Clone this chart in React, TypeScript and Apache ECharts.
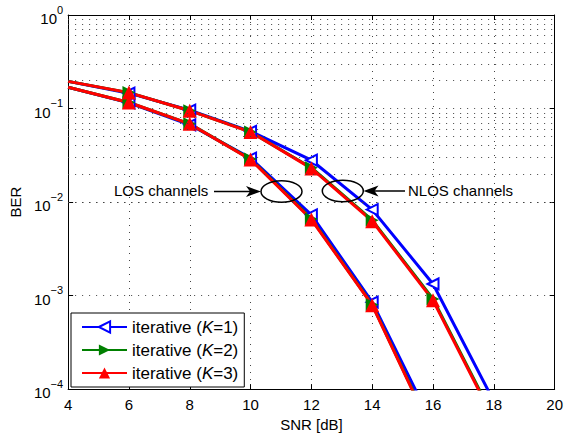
import React, { useEffect, useRef } from 'react';
import * as echarts from 'echarts';

const snr = [4, 6, 8, 10, 12, 14, 16, 18];

// LOS channels
const losK1 = [0.169, 0.115, 0.067, 0.0295, 0.0073, 0.00085, 0.000041];
const losK2 = [0.169, 0.116, 0.0686, 0.0288, 0.0066, 0.0008, 0.000034];
const losK3 = [0.169, 0.116, 0.0686, 0.0285, 0.0065, 0.00079, 0.000033];

// NLOS channels
const nlosK1 = [0.195, 0.146, 0.096, 0.057, 0.028, 0.0083, 0.00133, 0.000074];
const nlosK2 = [0.195, 0.148, 0.0948, 0.0562, 0.0233, 0.0064, 0.00092, 0.000049];
const nlosK3 = [0.195, 0.148, 0.0948, 0.056, 0.0229, 0.00625, 0.00089, 0.000047];

const decades = [-4, -3, -2, -1];
const minorMultipliers = [2, 3, 4, 5, 6, 7, 8, 9];

const FONT = '"Liberation Sans", Arial, Helvetica, sans-serif';

function toData(arr: number[]) {
  return arr.map((v, i) =>
    i === 0 ? { value: [snr[i], v], symbol: 'none' } : [snr[i], v]
  );
}

const grid = { type: [1, 6] as any, color: '#444', width: 1 };

export default function App() {
  const ref = useRef<HTMLDivElement>(null);
  useEffect(() => {
    if (!ref.current) return;
    const chart = echarts.init(ref.current, undefined, { renderer: 'svg' });

    const minorLines: any[] = [];
    decades.forEach((d) =>
      minorMultipliers.forEach((m) => minorLines.push({ yAxis: m * Math.pow(10, d) }))
    );

    const K1 = {
      color: '#0000ff',
      symbol: 'emptyTriangle',
      symbolRotate: 90,
      symbolSize: 11,
    };
    const K2 = {
      color: '#008000',
      symbol: 'triangle',
      symbolRotate: -90,
      symbolSize: 13,
    };
    const K3 = {
      color: '#ff0000',
      symbol: 'triangle',
      symbolRotate: 0,
      symbolSize: 14,
    };

    const mk = (name: string, st: any, arr: number[]) => ({
      type: 'line',
      name,
      data: toData(arr),
      symbol: st.symbol,
      symbolRotate: st.symbolRotate,
      symbolSize: st.symbolSize,
      showAllSymbol: true,
      clip: true,
      z: 3,
      lineStyle: { color: st.color, width: 3 },
      itemStyle: { color: st.color, borderColor: st.color, borderWidth: st.symbol === 'emptyTriangle' ? 1.5 : 0 },
      emphasis: { disabled: true },
    });

    chart.setOption({
      animation: false,
      backgroundColor: '#fff',
      textStyle: { fontFamily: FONT },
      grid: { left: 64, top: 15, right: 8, bottom: 44, show: false },
      legend: {
        data: ['K=1', 'K=2', 'K=3'],
        orient: 'vertical',
        left: 71,
        top: 313,
        width: 180,
        padding: [4, 6, 4, 10],
        itemGap: 3,
        itemWidth: 45,
        itemHeight: 14,
        backgroundColor: '#fff',
        borderColor: '#000',
        borderWidth: 1,
        selectedMode: false,
        formatter: (name: string) => `{n|iterative (}{k|K}{n|=${name.slice(2)})}`,
        textStyle: {
          fontFamily: FONT,
          fontSize: 17,
          color: '#000',
          lineHeight: 20,
          rich: {
            n: { fontFamily: FONT, fontSize: 17, color: '#000' },
            k: { fontFamily: FONT, fontSize: 17, color: '#000', fontStyle: 'italic' },
          },
        },
      },
      xAxis: [
        {
          type: 'value',
          min: 4,
          max: 20,
          interval: 2,
          name: 'SNR [dB]',
          nameLocation: 'middle',
          nameGap: 24,
          nameTextStyle: { fontFamily: FONT, fontSize: 15, color: '#000' },
          axisLine: { lineStyle: { color: '#000', width: 1 } },
          axisTick: { inside: true, length: 5, lineStyle: { color: '#000' } },
          axisLabel: { fontFamily: FONT, fontSize: 15, color: '#000', margin: 8 },
          splitLine: { show: true, lineStyle: grid },
        },
        {
          type: 'value',
          position: 'top',
          min: 4,
          max: 20,
          interval: 2,
          axisLine: { lineStyle: { color: '#000', width: 1 } },
          axisTick: { inside: true, length: 5, lineStyle: { color: '#000' } },
          axisLabel: { show: false },
          splitLine: { show: false },
        },
      ],
      yAxis: [
        {
          type: 'log',
          logBase: 10,
          min: 1e-4,
          max: 1,
          name: 'BER',
          nameLocation: 'middle',
          nameGap: 44,
          nameTextStyle: { fontFamily: FONT, fontSize: 15, color: '#000' },
          axisLine: { show: true, lineStyle: { color: '#000', width: 1 } },
          axisTick: { inside: true, length: 5, lineStyle: { color: '#000' } },
          axisLabel: {
            margin: 5,
            formatter: (v: number) => {
              const e = Math.round(Math.log10(v));
              const s = e < 0 ? '\u2212' + Math.abs(e) : String(e);
              return `{b|10}{s|${s}}`;
            },
            rich: {
              b: { fontFamily: FONT, fontSize: 15, color: '#000', verticalAlign: 'bottom', lineHeight: 22 },
              s: { fontFamily: FONT, fontSize: 11, color: '#000', verticalAlign: 'top', lineHeight: 22 },
            },
          },
          splitLine: { show: true, lineStyle: grid },
        },
        {
          type: 'log',
          logBase: 10,
          min: 1e-4,
          max: 1,
          position: 'right',
          axisLine: { show: true, lineStyle: { color: '#000', width: 1 } },
          axisTick: { inside: true, length: 5, lineStyle: { color: '#000' } },
          axisLabel: { show: false },
          splitLine: { show: false },
        },
      ],
      series: [
        {
          type: 'line',
          name: 'minor-grid',
          data: [],
          z: 1,
          silent: true,
          markLine: {
            silent: true,
            symbol: ['none', 'none'],
            label: { show: false },
            lineStyle: grid,
            data: minorLines,
          },
        },
        mk('K=1', K1, losK1),
        mk('K=1', K1, nlosK1),
        mk('K=2', K2, losK2),
        mk('K=2', K2, nlosK2),
        mk('K=3', K3, losK3),
        mk('K=3', K3, nlosK3),
      ],
      graphic: [
        {
          type: 'text',
          left: 114,
          top: 183,
          style: { text: 'LOS channels', font: `15px ${FONT}`, fill: '#000' },
          z: 10,
        },
        {
          type: 'line',
          shape: { x1: 214, y1: 191.5, x2: 252, y2: 191.5 },
          style: { stroke: '#000', lineWidth: 1.5 },
          z: 10,
        },
        {
          type: 'polygon',
          shape: { points: [[261, 191.5], [246, 186], [250, 191.5], [246, 197]] },
          style: { fill: '#000' },
          z: 10,
        },
        {
          type: 'ellipse',
          shape: { cx: 281.5, cy: 191.5, rx: 20.5, ry: 10.7 },
          style: { fill: 'none', stroke: '#000', lineWidth: 1.5 },
          z: 10,
        },
        {
          type: 'ellipse',
          shape: { cx: 342.8, cy: 191, rx: 20.5, ry: 10.7 },
          style: { fill: 'none', stroke: '#000', lineWidth: 1.5 },
          z: 10,
        },
        {
          type: 'polygon',
          shape: { points: [[363.5, 191], [378.5, 185.5], [374.5, 191], [378.5, 196.5]] },
          style: { fill: '#000' },
          z: 10,
        },
        {
          type: 'line',
          shape: { x1: 373, y1: 191, x2: 405, y2: 191 },
          style: { stroke: '#000', lineWidth: 1.5 },
          z: 10,
        },
        {
          type: 'text',
          left: 408,
          top: 183,
          style: { text: 'NLOS channels', font: `15px ${FONT}`, fill: '#000' },
          z: 10,
        },
      ],
    });
    return () => chart.dispose();
  }, []);
  return (
    <div
      ref={ref}
      style={{ position: 'absolute', left: 0, top: 0, width: 566, height: 437, background: '#fff' }}
    />
  );
}
